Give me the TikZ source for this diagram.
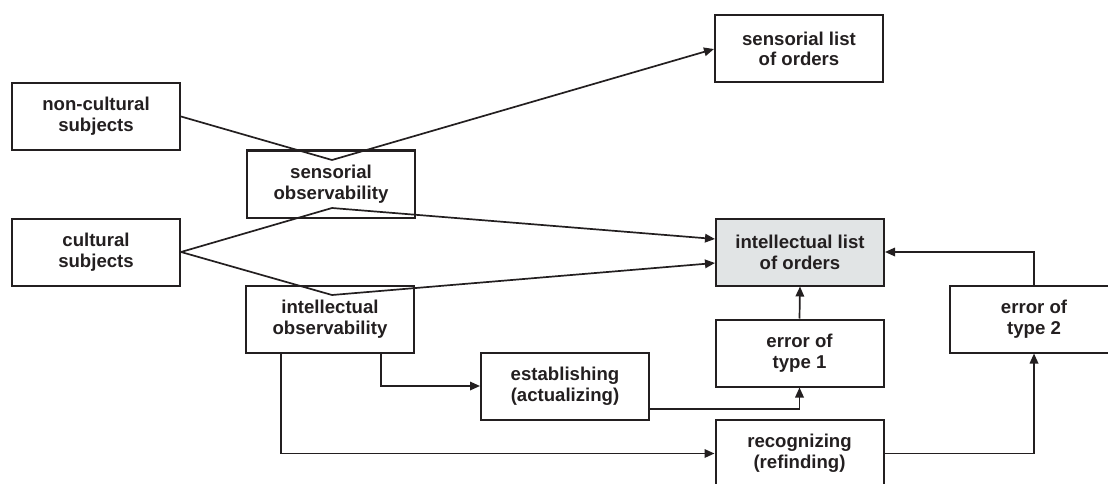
\documentclass[tikz,border=0pt]{standalone}
\usepackage{fontspec}
\setmainfont{Liberation Sans}
\usetikzlibrary{arrows.meta}
\definecolor{ink}{HTML}{231F20}
\definecolor{listfill}{HTML}{E1E4E5}
\begin{document}
\begin{tikzpicture}[x=1pt,y=-1pt,
  box/.style={draw=ink,line width=2pt,rectangle,minimum width=168pt,minimum height=67pt,
    inner sep=0pt,align=center,text=ink,font=\fontsize{18.6}{20.7}\selectfont\bfseries},
  link/.style={draw=ink,line width=1.7pt},
  flow/.style={link,-{Triangle[length=10pt,width=8.5pt]}}]
\useasboundingbox (0,0) rectangle (1108,484);
\clip (0,0) rectangle (1108,484);

% boxes
\node[box] (noncult) at (96,116.5) {non-cultural\\subjects};
\node[box] (cult) at (96,252) {cultural\\subjects};
\node[box] (sensobs) at (331,184) {sensorial\\observability};
\node[box] (intobs) at (330,319) {intellectual\\observability};
\node[box] (estab) at (565,386) {establishing\\(actualizing)};
\node[box] (senslist) at (799,49) {sensorial list\\of orders};
\node[box,fill=listfill] (intlist) at (800,252) {intellectual list\\of orders};
\node[box] (err1) at (799.5,353) {error of\\type 1};
\node[box] (recog) at (799.5,453.5) {recognizing\\(refinding)};
\node[box] (err2) at (1034,319) {error of\\type 2};

% bend points of the subject lines
\coordinate (v1) at (332,160);
\coordinate (v2) at (332,208);
\coordinate (v3) at (332,295);

% subjects through observability to the lists
\draw[flow] (noncult.east) -- (v1) -- (senslist.west);
\draw[flow] (cult.east) -- (v2) -- ([yshift=13pt]intlist.west);
\draw[flow] (cult.east) -- (v3) -- ([yshift=-11pt]intlist.west);

% intellectual observability branches
\draw[flow] ([xshift=51pt]intobs.south) |- (estab.west);
\draw[flow] ([xshift=-49pt]intobs.south) |- (recog.west);

% errors
\draw[flow] ([yshift=-23pt]estab.east) -| (err1.south);
\draw[flow] (err1.north) -- (intlist.south);
\draw[flow] (recog.east) -| (err2.south);
\draw[flow] (err2.north) |- (intlist.east);
\end{tikzpicture}
\end{document}
